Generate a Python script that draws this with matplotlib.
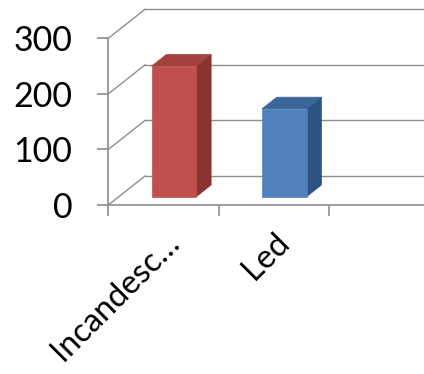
import matplotlib
matplotlib.use("Agg")
import matplotlib.pyplot as plt
from matplotlib.patches import Polygon

# Datos del gráfico
categorias = ["Incandesc…", "Led"]
valores = [235, 158]
colores_frente = ["#C0504D", "#4F81BD"]
colores_arriba = ["#A3413E", "#3C6598"]
colores_lado = ["#8B3330", "#2D5382"]
marcas_y = [0, 100, 200, 300]

plt.rcParams["font.family"] = ["Lato", "DejaVu Sans"]

GRIS = "#8E8E8E"
# desplazamiento de profundidad (en unidades de datos)
DX = 0.333
DY = 52.2
ANCHO = 0.405
D0, D1 = 0.286, 0.69
XMAX = (424 - 108.3) / 110.3


def proy(x, v, d):
    return (x + d * DX, v + d * DY)


fig = plt.figure(figsize=(4.24, 3.74), dpi=100)
ax = fig.add_axes([108.3 / 424, 169 / 374, (424 - 108.3) / 424, 166.7 / 374])

ax.set_yticks(marcas_y)
ax.set_yticklabels([str(m) for m in marcas_y])
ax.tick_params(axis="y", direction="out", length=8, width=1.2, color=GRIS,
               labelsize=24.5, pad=18)

ax.set_xticks([0, 1, 2])
ax.set_xticklabels([])
ax.set_xticks([0.5, 1.5], minor=True)
ax.set_xticklabels(categorias, minor=True, rotation=45, ha="right",
                   rotation_mode="anchor", fontsize=23.5)
ax.tick_params(axis="x", which="major", direction="out", length=8, width=1.2, color=GRIS)
ax.tick_params(axis="x", which="minor", length=0, pad=16)

# los límites van después de los ticks para que no se ensanchen
ax.set_xlim(0, XMAX)
ax.set_ylim(0, 300)

for s in ["top", "right"]:
    ax.spines[s].set_visible(False)
for s in ["left", "bottom"]:
    ax.spines[s].set_color(GRIS)
    ax.spines[s].set_linewidth(1.2)

# paredes: líneas de cuadrícula laterales y del fondo
for v in marcas_y:
    x0, y0 = proy(0, v, 0)
    x1, y1 = proy(0, v, 1)
    ax.plot([x0, x1], [y0, y1], color=GRIS, lw=1.0, clip_on=False, zorder=1)
    ax.plot([x1, XMAX + 1], [y1, y1], color=GRIS, lw=1.0, clip_on=False, zorder=1)

# barras en 3D
for i, (val, cf, ca, cl) in enumerate(zip(valores, colores_frente, colores_arriba, colores_lado)):
    c = i + 0.5
    xa, xb = c - ANCHO / 2, c + ANCHO / 2
    frente = [proy(xa, 0, D0), proy(xb, 0, D0), proy(xb, val, D0), proy(xa, val, D0)]
    lado = [proy(xb, 0, D0), proy(xb, 0, D1), proy(xb, val, D1), proy(xb, val, D0)]
    arriba = [proy(xa, val, D0), proy(xb, val, D0), proy(xb, val, D1), proy(xa, val, D1)]
    for pts, col in [(lado, cl), (arriba, ca), (frente, cf)]:
        ax.add_patch(Polygon(pts, closed=True, facecolor=col, edgecolor=col,
                             lw=0.5, clip_on=False, zorder=3))

fig.savefig("out.png", dpi=100)
